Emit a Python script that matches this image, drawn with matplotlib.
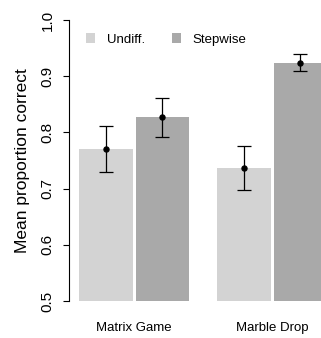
import numpy as np
import matplotlib.pyplot as plt

plt.rcParams['font.family'] = ['Liberation Sans', 'DejaVu Sans']

# data
games = ['Matrix Game', 'Marble Drop']
conditions = ['Undiff.', 'Stepwise']
means = {'Undiff.': [0.771, 0.736], 'Stepwise': [0.827, 0.924]}
err_lo = {'Undiff.': [0.730, 0.697], 'Stepwise': [0.792, 0.910]}
err_hi = {'Undiff.': [0.812, 0.776], 'Stepwise': [0.862, 0.940]}
colors = {'Undiff.': '#d3d3d3', 'Stepwise': '#a9a9a9'}
yticks = [0.5, 0.6, 0.7, 0.8, 0.9, 1.0]

fig = plt.figure(figsize=(3.21, 3.38), dpi=100)
ax = fig.add_axes([69 / 321, 37 / 338, 252 / 321, 281 / 338])

group_x = np.array([0.0, 2.45])
bw = 0.947
for j, cond in enumerate(conditions):
    x = group_x + 0.5 + j
    m = np.array(means[cond])
    lo = m - np.array(err_lo[cond])
    hi = np.array(err_hi[cond]) - m
    ax.bar(x, m - 0.5, bottom=0.5, width=bw, color=colors[cond],
           edgecolor='none', label=cond)
    ax.errorbar(x, m, yerr=[lo, hi], fmt='o', color='black', ms=3.6,
                capsize=5, elinewidth=0.9, capthick=0.9)

ax.set_xlim(-0.16, 4.32)
ax.set_ylim(0.5, 1.0)
ax.set_yticks(yticks)
ax.set_yticklabels(['%.1f' % t for t in yticks], rotation=90, va='center',
                   fontsize=11)
ax.tick_params(axis='y', length=4.3, width=0.8, pad=6)
ax.set_xticks(group_x + 1.0)
ax.set_xticklabels(games, fontsize=9.5)
ax.tick_params(axis='x', length=0, pad=15)
for s in ['top', 'right', 'bottom']:
    ax.spines[s].set_visible(False)
ax.spines['left'].set_linewidth(0.8)
ax.set_ylabel('Mean proportion correct', fontsize=12.5, labelpad=8)

ax.legend(loc='upper left', bbox_to_anchor=(0.02, 0.995), ncol=2,
          frameon=False, fontsize=9.5, handlelength=0.7, handleheight=0.7,
          handletextpad=0.9, columnspacing=2.0)

fig.savefig('out.png', dpi=100)
